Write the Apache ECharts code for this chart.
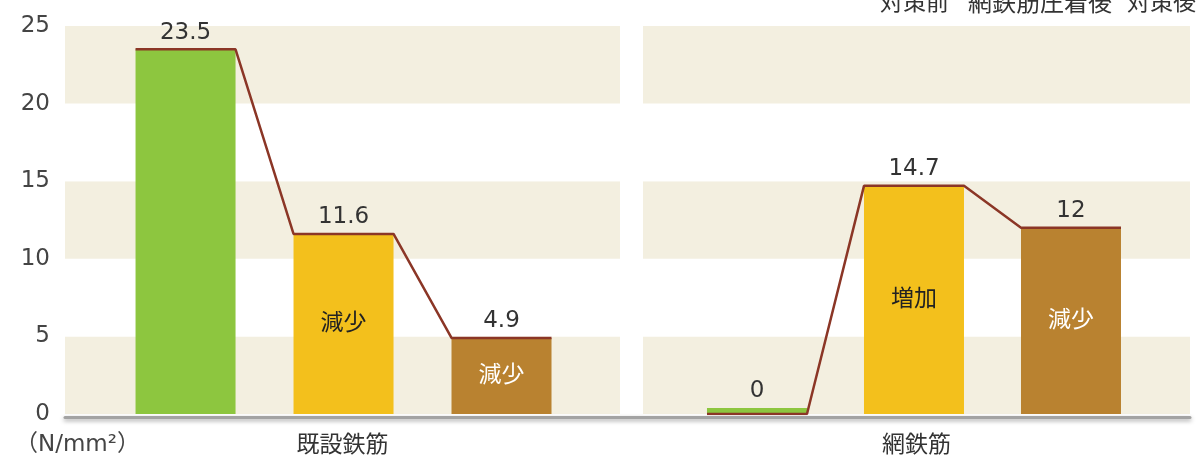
<!DOCTYPE html>
<html>
<head>
<meta charset="utf-8">
<script src="https://cdn.jsdelivr.net/npm/echarts@6/dist/echarts.min.js"></script>
<style>
html,body{margin:0;padding:0;background:#fff;}
#chart{width:1201px;height:459px;}
</style>
</head>
<body>
<div id="chart"></div>
<script>
// ---- data ----
const stages = ['対策前', '網鉄筋圧着後', '対策後'];
const groups = ['既設鉄筋', '網鉄筋'];
const existingRebar = [23.5, 11.6, 4.9];
const meshRebar = [0, 14.7, 12];
const existingNotes = ['', '減少', '減少'];
const meshNotes = ['', '増加', '減少'];
const unitLabel = '（N/mm²）';

// ---- style ----
const stageColors = ['#8dc63f', '#f3c01c', '#b98230'];
const noteColors = ['#222', '#222', '#ffffff'];
const lineColor = '#8b3626';
const FONT = "'DejaVu Sans', 'Noto Sans CJK JP', sans-serif";
const BAR_W = 100;
const panels = [
  {left: 65, width: 555, min: -0.763, max: 2.75, values: existingRebar, notes: existingNotes, name: groups[0]},
  {left: 643, width: 547, min: -0.726, max: 2.758, values: meshRebar, notes: meshNotes, name: groups[1]}
];
const TOP = 26, HEIGHT = 388;

const grids = [], xAxes = [], yAxes = [], series = [];
panels.forEach((p, k) => {
  grids.push({left: p.left, top: TOP, width: p.width, height: HEIGHT, outerBoundsMode: 'none', containLabel: false});
  xAxes.push({
    type: 'value', gridIndex: k, min: p.min, max: p.max,
    name: p.name, nameLocation: 'middle', nameGap: 21,
    nameTextStyle: {fontSize: 23, color: '#333', fontFamily: FONT},
    axisLine: {show: false}, axisTick: {show: false}, axisLabel: {show: false}, splitLine: {show: false}
  });
  yAxes.push({
    type: 'value', gridIndex: k, min: 0, max: 25, interval: 5,
    axisLine: {show: false}, axisTick: {show: false}, splitLine: {show: false},
    axisLabel: {show: k === 0, fontSize: 23, color: '#444', margin: 15, fontFamily: FONT},
    splitArea: {show: true, areaStyle: {color: ['#f3efe0', '#ffffff']}}
  });
  const unitPx = p.width / (p.max - p.min);
  const half = BAR_W / 2 / unitPx;
  series.push({
    type: 'bar', xAxisIndex: k, yAxisIndex: k, barWidth: BAR_W, barGap: '-100%',
    barMinHeight: k === 1 ? 6 : 0,
    data: p.values.map((v, i) => ({value: [i, v], itemStyle: {color: stageColors[i]}})),
    label: {show: true, position: 'top', distance: 5, fontSize: 23, color: '#333', fontFamily: FONT,
      formatter: (d) => String(d.value[1])},
    z: 2
  });
  series.push({
    type: 'bar', xAxisIndex: k, yAxisIndex: k, barWidth: BAR_W, barGap: '-100%',
    data: p.values.map((v, i) => ({value: [i, v], itemStyle: {color: 'rgba(0,0,0,0)'},
      label: {color: noteColors[i]}})),
    label: {show: true, position: 'inside', fontSize: 23, fontWeight: 'normal', fontFamily: FONT,
      formatter: (d) => p.notes[d.dataIndex]},
    z: 4
  });
  const pts = [];
  p.values.forEach((v, i) => { pts.push([i - half, v]); pts.push([i + half, v]); });
  series.push({
    type: 'line', xAxisIndex: k, yAxisIndex: k, data: pts, symbol: 'none',
    lineStyle: {color: lineColor, width: 2.5}, z: 3, silent: true
  });
});
// baseline grid spanning both panels
grids.push({left: 65, top: TOP + 3, width: 1125, height: HEIGHT, outerBoundsMode: 'none', containLabel: false});
xAxes.push({type: 'value', gridIndex: 2, min: 0, max: 1,
  axisLine: {show: true, lineStyle: {color: '#a3a3a3', width: 3, shadowColor: 'rgba(0,0,0,0.35)', shadowBlur: 4, shadowOffsetY: 2}},
  axisTick: {show: false}, axisLabel: {show: false}, splitLine: {show: false}});
yAxes.push({type: 'value', gridIndex: 2, show: false, min: 0, max: 1});

const chart = echarts.init(document.getElementById('chart'));
chart.setOption({
  animation: false,
  backgroundColor: '#ffffff',
  textStyle: {fontFamily: FONT},
  grid: grids, xAxis: xAxes, yAxis: yAxes, series: series,
  graphic: [
    {type: 'text', left: 15, top: 434, style: {text: unitLabel, fontSize: 23, fill: '#444', fontFamily: FONT}},
    {type: 'text', left: 880, top: -7, style: {text: stages[0], fontSize: 23, fill: '#333', fontFamily: FONT}},
    {type: 'text', left: 968, top: -7, style: {text: stages[1], fontSize: 24, fill: '#333', fontFamily: FONT}},
    {type: 'text', left: 1127, top: -7, style: {text: stages[2], fontSize: 23, fill: '#333', fontFamily: FONT}}
  ]
});
</script>
</body>
</html>
